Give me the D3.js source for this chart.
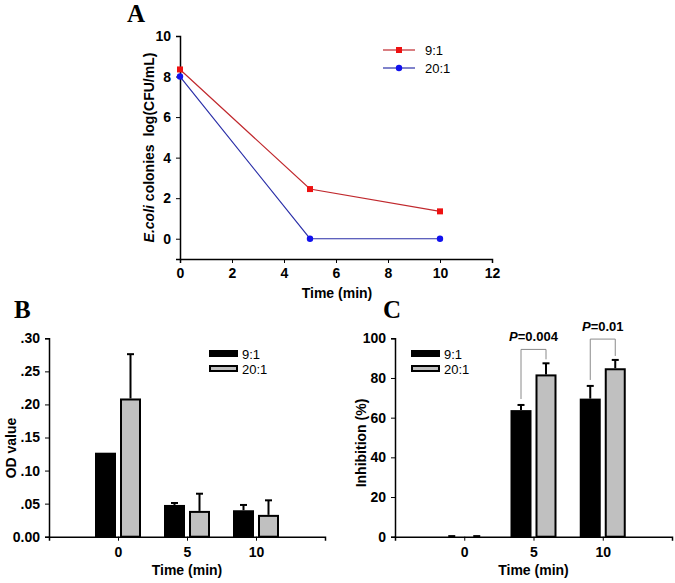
<!DOCTYPE html>
<html>
<head>
<meta charset="utf-8">
<script src="https://cdn.jsdelivr.net/npm/d3@7"></script>
<style>
  body { margin: 0; background: #fff; }
  svg { font-family: "Liberation Sans", Arial, sans-serif; }
  .tick text { font-weight: bold; font-size: 14px; fill: #000; }
  .panel-label { font-family: "Liberation Serif", "Times New Roman", serif; font-weight: bold; font-size: 25px; }
  .ax-title { font-weight: bold; font-size: 14px; }
  .legend text { font-size: 13px; }
</style>
</head>
<body>
<div id="fig"></div>
<script>
// panel A - survival curve
const timeA = [0, 5, 10];
const colony91 = [8.35, 2.45, 1.35];
const colony201 = [8.0, 0, 0];

// panels B and C share categories
const timeCats = ["0", "5", "10"];
const od91 = [0.127, 0.048, 0.040];
const od91Err = [0, 0.003, 0.008];
const od201 = [0.209, 0.039, 0.033];
const od201Err = [0.067, 0.026, 0.022];

const inh91 = [0, 63.8, 69.6];
const inh91Err = [0.3, 2.6, 6.4];
const inh201 = [0, 81.8, 84.9];
const inh201Err = [0.3, 5.6, 4.2];
const pValues = ["", "0.004", "0.01"];

const seriesNames = ["9:1", "20:1"];

const svg = d3.select("#fig").append("svg")
    .attr("width", 675)
    .attr("height", 583);

// ---------- Panel A ----------
const xA = d3.scaleLinear().domain([0, 12]).range([180, 492]);
const yA = d3.scaleLinear().domain([-1, 10]).range([259, 36]);

svg.append("g")
    .attr("transform", `translate(0, ${yA(-1)})`)
    .call(d3.axisBottom(xA).tickValues([0, 2, 4, 6, 8, 10, 12]).tickSizeOuter(0).tickSize(4).tickPadding(5))
    .call(g => g.select(".domain").attr("stroke-width", 1.5));

svg.append("g")
    .attr("transform", `translate(${xA(0)}, 0)`)
    .call(d3.axisLeft(yA).tickValues([0, 2, 4, 6, 8, 10]).tickSizeOuter(0).tickSize(4).tickPadding(5))
    .call(g => g.select(".domain").attr("stroke-width", 1.5));

svg.append("text").attr("class", "panel-label").attr("x", 127).attr("y", 22).text("A");

svg.append("text").attr("class", "ax-title")
    .attr("x", 337).attr("y", 298)
    .attr("text-anchor", "middle")
    .text("Time (min)");

const aTitle = svg.append("text").attr("class", "ax-title")
    .attr("transform", `translate(154, ${(yA(-1) + yA(10)) / 2}) rotate(-90)`)
    .attr("text-anchor", "middle");
aTitle.append("tspan").style("font-style", "italic").text("E.coli");
aTitle.append("tspan").attr("xml:space", "preserve").text(" colonies  log(CFU/mL)");

const lineA = d3.line().x((d, i) => xA(timeA[i])).y(d => yA(d));

svg.append("path").datum(colony91)
    .attr("d", lineA).attr("fill", "none").attr("stroke", "#c0282d").attr("stroke-width", 1.2);
svg.append("path").datum(colony201)
    .attr("d", lineA).attr("fill", "none").attr("stroke", "#2b2fa8").attr("stroke-width", 1.2);

svg.selectAll(".sq").data(colony91).enter().append("rect")
    .attr("x", (d, i) => xA(timeA[i]) - 3)
    .attr("y", d => yA(d) - 3)
    .attr("width", 6).attr("height", 6)
    .attr("fill", "#ee1111");
svg.selectAll(".dot").data(colony201).enter().append("circle")
    .attr("cx", (d, i) => xA(timeA[i]))
    .attr("cy", d => yA(d))
    .attr("r", 3.2)
    .attr("fill", "#1111ee");

const legA = svg.append("g").attr("class", "legend");
[["#c0282d", "#ee1111"], ["#2b2fa8", "#1111ee"]].forEach((c, i) => {
    const y = 50 + i * 18;
    legA.append("line").attr("x1", 383).attr("x2", 415).attr("y1", y).attr("y2", y)
        .attr("stroke", c[0]).attr("stroke-width", 1.2);
    if (i === 0) {
        legA.append("rect").attr("x", 396).attr("y", y - 3).attr("width", 6).attr("height", 6).attr("fill", c[1]);
    } else {
        legA.append("circle").attr("cx", 399).attr("cy", y).attr("r", 3.2).attr("fill", c[1]);
    }
    legA.append("text").attr("x", 425).attr("y", y + 5).text(seriesNames[i]);
});

// ---------- bar panel helper ----------
function barPanel(opts) {
    const x = d3.scaleLinear().domain([-1, 3]).range([opts.left, opts.right]);
    const y = d3.scaleLinear().domain(opts.domain).range([536.7, 338.3]);
    const g = svg.append("g");

    g.append("g")
        .attr("transform", `translate(0, ${y(opts.domain[0])})`)
        .call(d3.axisBottom(x).tickValues([0, 1, 2]).tickFormat((d, i) => timeCats[i])
            .tickSizeOuter(0).tickSize(4).tickPadding(6))
        .call(s => s.select(".domain").attr("stroke-width", 1.5));

    g.append("g")
        .attr("transform", `translate(${opts.left}, 0)`)
        .call(d3.axisLeft(y).tickValues(opts.ticks).tickFormat(opts.fmt)
            .tickSizeOuter(0).tickSize(4).tickPadding(5))
        .call(s => s.select(".domain").attr("stroke-width", 1.5));

    const bw = 21;
    const series = [
        { vals: opts.a, err: opts.aErr, fill: "#000", dx: -23 },
        { vals: opts.b, err: opts.bErr, fill: "#c0c0c0", dx: 2 }
    ];
    series.forEach(s => {
        const rows = s.vals.map((v, i) => ({ i, v, e: s.err[i], cx: x(i) + s.dx + bw / 2 }));
        const withErr = rows.filter(d => d.e > 0);
        g.selectAll(null).data(withErr).enter().append("line")
            .attr("x1", d => d.cx).attr("x2", d => d.cx)
            .attr("y1", d => y(d.v)).attr("y2", d => y(d.v + d.e))
            .attr("stroke", "#000").attr("stroke-width", 2);
        g.selectAll(null).data(withErr).enter().append("line")
            .attr("x1", d => d.cx - 3.5).attr("x2", d => d.cx + 3.5)
            .attr("y1", d => y(d.v + d.e)).attr("y2", d => y(d.v + d.e))
            .attr("stroke", "#000").attr("stroke-width", 2);
        g.selectAll(null).data(rows.filter(d => d.v > 0)).enter().append("rect")
            .attr("x", d => d.cx - bw / 2 + 1)
            .attr("y", d => y(d.v) + 1)
            .attr("width", bw - 2)
            .attr("height", d => y(opts.domain[0]) - y(d.v) - 1)
            .attr("fill", s.fill).attr("stroke", "#000").attr("stroke-width", 2);
    });

    // legend
    const leg = g.append("g").attr("class", "legend");
    ["#000", "#c0c0c0"].forEach((c, i) => {
        const ly = 350 + i * 15;
        leg.append("rect").attr("x", opts.legX + 1).attr("y", ly + 1).attr("width", 27).attr("height", 5)
            .attr("fill", c).attr("stroke", "#000").attr("stroke-width", 2);
        leg.append("text").attr("x", opts.legX + 33).attr("y", ly + 8.5).text(seriesNames[i]);
    });

    g.append("text").attr("class", "panel-label").attr("x", opts.labelX).attr("y", 318).text(opts.label);
    g.append("text").attr("class", "ax-title")
        .attr("x", x(1)).attr("y", 575).attr("text-anchor", "middle").text("Time (min)");
    g.append("text").attr("class", "ax-title")
        .attr("transform", `translate(${opts.titleX}, ${opts.titleY}) rotate(-90)`)
        .attr("text-anchor", "middle").text(opts.yTitle);

    return { x, y, g, bw };
}

// ---------- Panel B ----------
const odFmt = d => d === 0 ? "0.00" : d3.format(".2f")(d).replace(/^0/, "");
barPanel({
    left: 49, right: 325, domain: [0, 0.30], ticks: [0, 0.05, 0.10, 0.15, 0.20, 0.25, 0.30],
    fmt: odFmt, a: od91, aErr: od91Err, b: od201, bErr: od201Err,
    legX: 209, label: "B", labelX: 14, titleX: 16, titleY: 448, yTitle: "OD value"
});

// ---------- Panel C ----------
const pc = barPanel({
    left: 395, right: 672, domain: [0, 100], ticks: [0, 20, 40, 60, 80, 100],
    fmt: d3.format("d"), a: inh91, aErr: inh91Err, b: inh201, bErr: inh201Err,
    legX: 411, label: "C", labelX: 383, titleX: 366, titleY: 443, yTitle: "Inhibition (%)"
});

// significance brackets
pValues.forEach((p, i) => {
    if (!p) return;
    const topA = inh91[i] + inh91Err[i];
    const topB = inh201[i] + inh201Err[i];
    const xa = pc.x(i) - 23 + pc.bw / 2;
    const xb = pc.x(i) + 2 + pc.bw / 2;
    const yTop = pc.y(Math.max(topA, topB) + 7 + (i - 1) * 3.5);
    pc.g.append("path")
        .attr("d", `M${xa},${pc.y(topA + 3)}V${yTop}H${xb}V${pc.y(topB + 2)}`)
        .attr("fill", "none").attr("stroke", "#8a8a8a").attr("stroke-width", 1);
    const t = pc.g.append("text").attr("x", (xa + xb) / 2).attr("y", yTop - 8)
        .attr("text-anchor", "middle").style("font-weight", "bold").style("font-size", "13px");
    t.append("tspan").style("font-style", "italic").text("P");
    t.append("tspan").text("=" + p);
});
</script>
</body>
</html>
